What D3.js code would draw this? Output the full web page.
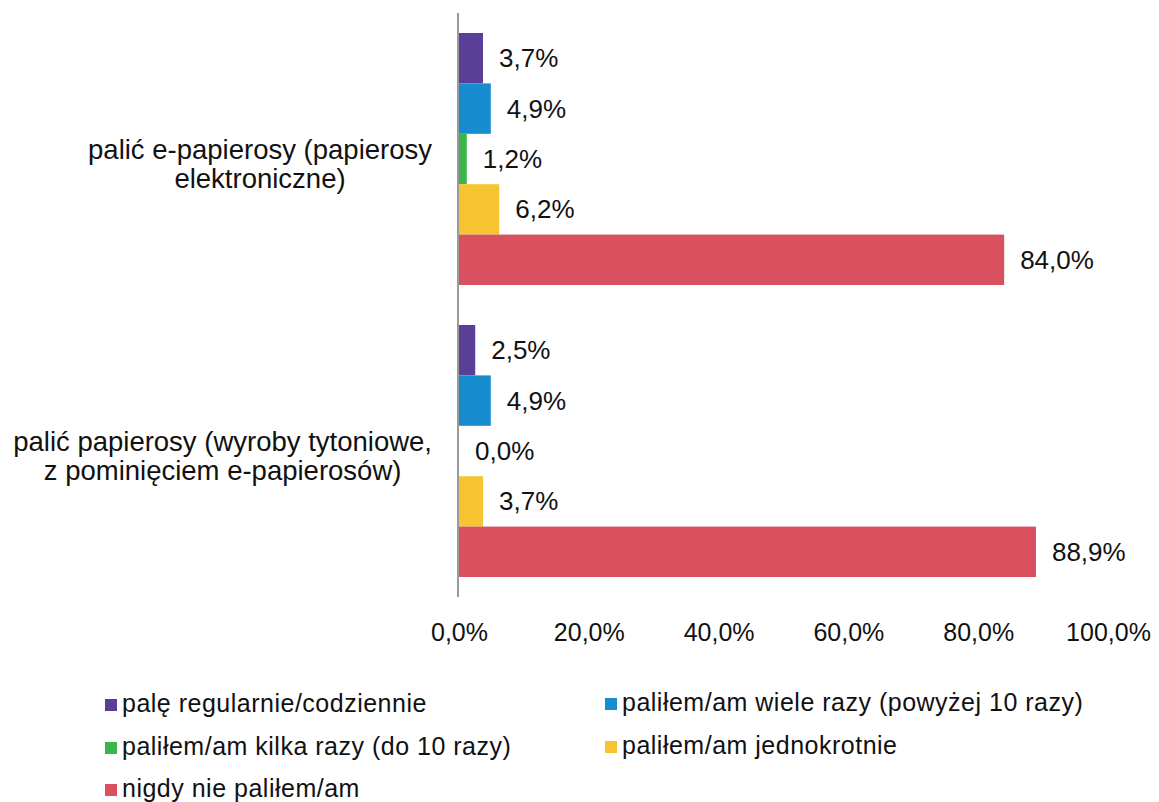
<!DOCTYPE html>
<html>
<head>
<meta charset="utf-8">
<script src="https://cdn.jsdelivr.net/npm/d3@7"></script>
<style>
  html, body { margin: 0; padding: 0; background: #ffffff; }
  svg { display: block; }
  text { font-family: "Liberation Sans", Arial, sans-serif; fill: #111111; }
</style>
</head>
<body>
<svg id="chart" width="1159" height="802"></svg>
<script>
// ---- data ----
const categories = [
  ["palić e-papierosy (papierosy", "elektroniczne)"],
  ["palić papierosy (wyroby tytoniowe,", "z pominięciem e-papierosów)"]
];
const seriesNames = [
  "palę regularnie/codziennie",
  "paliłem/am wiele razy (powyżej 10 razy)",
  "paliłem/am kilka razy (do 10 razy)",
  "paliłem/am jednokrotnie",
  "nigdy nie paliłem/am"
];
const seriesColors = ["#5a3f98", "#178ccf", "#3bb54a", "#f6c431", "#d9505e"];
// values in percent, per series, per category
const valsRegular   = [3.7, 2.5];
const valsMany      = [4.9, 4.9];
const valsFew       = [1.2, 0.0];
const valsOnce      = [6.2, 3.7];
const valsNever     = [84.0, 88.9];
const seriesValues = [valsRegular, valsMany, valsFew, valsOnce, valsNever];
const tickValues = [0, 20, 40, 60, 80, 100];

// ---- layout ----
const svg = d3.select("#chart");
const locale = d3.formatLocale({decimal: ",", thousands: " ", grouping: [3], currency: ["", " zł"]});
const fmt = v => locale.format(".1f")(v) + "%";

const x = d3.scaleLinear().domain([0, 100]).range([459, 1108]);
const y = d3.scaleBand().domain(d3.range(categories.length))
  .range([13, 597]).paddingInner(0.137).paddingOuter(0.0685);
const ySub = d3.scaleBand().domain(d3.range(seriesNames.length))
  .range([0, y.bandwidth()]).padding(0);

// axis line
svg.append("line")
  .attr("x1", x(0) - 1).attr("x2", x(0) - 1)
  .attr("y1", y.range()[0]).attr("y2", y.range()[1])
  .attr("stroke", "#9a9a9a").attr("stroke-width", 2);

// bars
categories.forEach((cat, ci) => {
  const g = svg.append("g").attr("transform", `translate(0,${y(ci)})`);
  seriesValues.forEach((vals, si) => {
    const v = vals[ci];
    g.append("rect")
      .attr("x", x(0))
      .attr("y", ySub(si))
      .attr("width", Math.max(0, x(v) - x(0)))
      .attr("height", ySub.bandwidth())
      .attr("fill", seriesColors[si]);
    g.append("text")
      .attr("x", x(v) + 16)
      .attr("y", ySub(si) + ySub.bandwidth() / 2 + 9)
      .attr("font-size", 26)
      .text(fmt(v));
  });
});

// category labels (right-aligned block, lines centred within)
categories.forEach((lines, ci) => {
  const cy = y(ci) + y.bandwidth() / 2;
  const g = svg.append("g");
  const texts = lines.map((ln, li) => g.append("text")
    .attr("font-size", 27.5)
    .attr("y", cy + 0 + li * 29)
    .attr("text-anchor", "middle")
    .text(ln));
  const widths = texts.map(t => t.node().getComputedTextLength());
  const blockW = d3.max(widths);
  const right = 432;
  texts.forEach(t => t.attr("x", right - blockW / 2));
});

// x tick labels
const xAxis = d3.axisBottom(x).tickValues(tickValues).tickSize(0).tickPadding(0)
  .tickFormat(d => fmt(d));
const ax = svg.append("g").attr("transform", "translate(0,620)").call(xAxis);
ax.select(".domain").remove();
ax.selectAll("text")
  .attr("font-size", 25)
  .attr("dy", null)
  .attr("y", 21)
  .style("font-family", "'Liberation Sans', Arial, sans-serif")
  .attr("fill", "#111111");

// legend
const legendPos = [
  {x: 105, y: 705}, {x: 605, y: 704},
  {x: 105, y: 748}, {x: 605, y: 747},
  {x: 105, y: 790}
];
seriesNames.forEach((name, i) => {
  const p = legendPos[i];
  const lg = svg.append("g").attr("transform", `translate(${p.x},${p.y})`);
  lg.append("rect").attr("x", 0).attr("y", -6).attr("width", 12).attr("height", 12)
    .attr("fill", seriesColors[i]);
  lg.append("text").attr("x", 17).attr("y", 7).attr("font-size", 25)
    .attr("letter-spacing", 0.5)
    .text(name);
});
</script>
</body>
</html>
